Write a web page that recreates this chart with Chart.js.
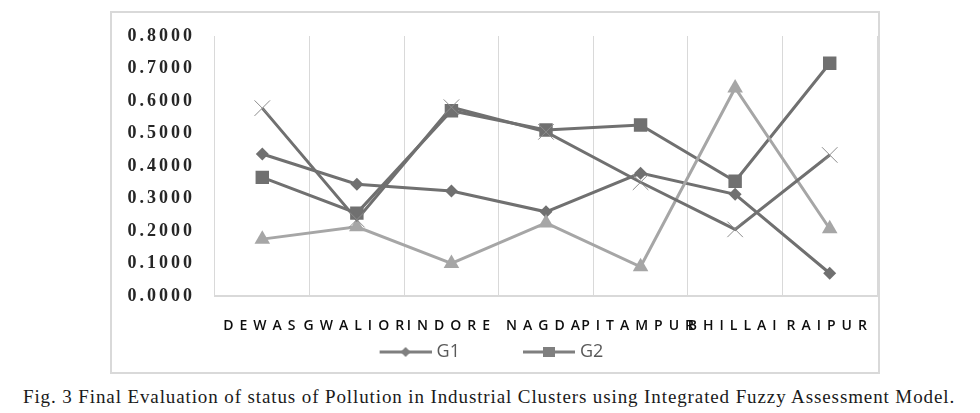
<!DOCTYPE html>
<html>
<head>
<meta charset="utf-8">
<script src="https://cdn.jsdelivr.net/npm/chart.js@4.4.1/dist/chart.umd.min.js"></script>
<style>
  body { margin: 0; background: #fff; width: 980px; height: 413px; overflow: hidden; position: relative; }
  #marco {
    position: absolute; left: 110px; top: 11px; width: 770px; height: 363px;
    border: 2px solid #d9d9d9; box-sizing: border-box;
  }
  #chart-contaminacion { position: absolute; left: 53px; top: 13px; display: block; }
  #pie {
    position: absolute; left: 23px; top: 386px; white-space: nowrap;
    font-family: "Liberation Serif", serif; font-size: 19px; color: #1a1a1a;
  }
</style>
</head>
<body>
<div id="marco"></div>
<canvas id="chart-contaminacion" width="825" height="359"></canvas>
<div id="pie">Fig. 3 Final Evaluation of status of Pollution in Industrial Clusters using Integrated Fuzzy Assessment Model.</div>
<script>
// Datos
var categorias = ['DEWAS', 'GWALIOR', 'INDORE', 'NAGDA', 'PITAMPUR', 'BHILLAI', 'RAIPUR'];
var serieG1 = [0.437, 0.344, 0.323, 0.259, 0.378, 0.313, 0.070];
var serieG2 = [0.365, 0.255, 0.570, 0.511, 0.526, 0.353, 0.716];
var serieG3 = [0.175, 0.213, 0.100, 0.225, 0.090, 0.640, 0.207];
var serieG4 = [0.578, 0.235, 0.581, 0.505, 0.350, 0.205, 0.434];
var nombresSeries = ['G1', 'G2', 'G3', 'G4'];
var seriesEnLeyenda = ['G1', 'G2'];
var ejeYMin = 0, ejeYMax = 0.8, ejeYPaso = 0.1;

var GRIS_OSCURO = '#707070';
var GRIS_CLARO = '#a6a6a6';
var GRIS_REJILLA = '#d9d9d9';

// Ajustar el pie de figura al ancho del original
(function() {
  var pie = document.getElementById('pie');
  var ancho = pie.getBoundingClientRect().width;
  var n = pie.textContent.length;
  pie.style.letterSpacing = ((932 - ancho) / n).toFixed(3) + 'px';
})();

// Escalas con espaciado entre letras (como en el original de Excel)
var CategoryScale = Chart.registry.getScale('category');
var LinearScale = Chart.registry.getScale('linear');

class CategoriaEspaciada extends CategoryScale {
  drawLabels(area) {
    this.ctx.save();
    this.ctx.letterSpacing = '6px';
    super.drawLabels(area);
    this.ctx.restore();
  }
}
CategoriaEspaciada.id = 'categoriaEspaciada';
CategoriaEspaciada.defaults = CategoryScale.defaults;

class LinealEspaciada extends LinearScale {
  drawLabels(area) {
    this.ctx.save();
    this.ctx.letterSpacing = '3px';
    super.drawLabels(area);
    this.ctx.restore();
  }
}
LinealEspaciada.id = 'linealEspaciada';
LinealEspaciada.defaults = LinearScale.defaults;

Chart.register(CategoriaEspaciada, LinealEspaciada);

// Caja de leyenda: ancho del hueco y posición de la línea dentro de él
var CAJA_LEYENDA = 101;
var INICIO_LINEA = 53;
var LARGO_LINEA = 52;

/**
 * Icono de leyenda estilo Excel: línea con marcador en el centro
 */
function iconoLeyenda(estilo, color) {
  var mitad = Math.max(CAJA_LEYENDA / 2, INICIO_LINEA + LARGO_LINEA - CAJA_LEYENDA / 2);
  var c = document.createElement('canvas');
  c.width = Math.ceil(mitad * 2);
  c.height = 14;
  var x0 = mitad - CAJA_LEYENDA / 2 + INICIO_LINEA;
  var g = c.getContext('2d');
  g.strokeStyle = color;
  g.lineWidth = 3;
  g.beginPath();
  g.moveTo(x0, 7);
  g.lineTo(x0 + LARGO_LINEA, 7);
  g.stroke();
  g.fillStyle = color;
  var cx = x0 + LARGO_LINEA / 2;
  g.beginPath();
  if (estilo === 'rectRot') {
    g.moveTo(cx, 2); g.lineTo(cx + 5, 7); g.lineTo(cx, 12); g.lineTo(cx - 5, 7);
  } else {
    g.rect(cx - 6, 2, 12, 10);
  }
  g.closePath();
  g.fill();
  return c;
}

var iconos = {
  G1: iconoLeyenda('rectRot', '#7f7f7f'),
  G2: iconoLeyenda('rect', '#7f7f7f')
};

function sinRelleno(scale) {
  scale.paddingTop = 0;
  scale.paddingBottom = 0;
  scale.paddingLeft = 0;
  scale.paddingRight = 0;
}

var ctx = document.getElementById('chart-contaminacion');

new Chart(ctx, {
  type: 'line',
  data: {
    labels: categorias,
    datasets: [
      {
        label: nombresSeries[0], data: serieG1, order: 4,
        borderColor: GRIS_OSCURO, backgroundColor: GRIS_OSCURO, borderWidth: 3,
        pointStyle: 'rectRot', pointRadius: 6.5, pointBorderWidth: 0
      },
      {
        label: nombresSeries[1], data: serieG2, order: 3,
        borderColor: GRIS_OSCURO, backgroundColor: GRIS_OSCURO, borderWidth: 3,
        pointStyle: 'rect', pointRadius: 9.5, pointBorderWidth: 0
      },
      {
        label: nombresSeries[2], data: serieG3, order: 2,
        borderColor: GRIS_CLARO, backgroundColor: GRIS_CLARO, borderWidth: 3,
        pointStyle: 'triangle', pointRadius: 9, pointBorderWidth: 0
      },
      {
        label: nombresSeries[3], data: serieG4, order: 1,
        borderColor: GRIS_OSCURO, backgroundColor: GRIS_OSCURO, borderWidth: 3,
        pointStyle: 'crossRot', pointRadius: 11, pointBorderWidth: 1,
        pointBorderColor: '#8c8c8c'
      }
    ]
  },
  options: {
    responsive: false,
    animation: false,
    events: [],
    layout: {
      autoPadding: false,
      padding: { left: 0, right: 1, top: 23, bottom: 1 }
    },
    plugins: {
      tooltip: { enabled: false },
      legend: {
        position: 'bottom',
        labels: {
          usePointStyle: true,
          pointStyleWidth: CAJA_LEYENDA,
          padding: 10,
          color: '#595959',
          font: { family: "'Open Sans', sans-serif", size: 18 },
          filter: function(item) { return seriesEnLeyenda.indexOf(item.text) !== -1; },
          sort: function(a, b) { return a.datasetIndex - b.datasetIndex; },
          generateLabels: function(chart) {
            var items = Chart.defaults.plugins.legend.labels.generateLabels(chart);
            return items.map(function(it) {
              if (iconos[it.text]) it.pointStyle = iconos[it.text];
              return it;
            });
          }
        }
      }
    },
    scales: {
      x: {
        type: 'categoriaEspaciada',
        offset: true,
        grid: { display: true, offset: true, color: GRIS_REJILLA, lineWidth: 1, drawTicks: false },
        border: { display: true, color: GRIS_REJILLA, width: 2 },
        ticks: {
          padding: 22,
          autoSkip: false,
          maxRotation: 0,
          color: '#0d0d0d',
          font: { family: "'Open Sans', sans-serif", size: 14, weight: '600' }
        },
        afterFit: function(scale) { scale.height = 37; sinRelleno(scale); }
      },
      y: {
        type: 'linealEspaciada',
        min: ejeYMin,
        max: ejeYMax,
        grid: { display: false, drawTicks: false },
        border: { display: false },
        ticks: {
          stepSize: ejeYPaso,
          padding: 20,
          color: '#262626',
          font: { family: "'Liberation Serif', serif", size: 18, weight: 'bold' },
          callback: function(value) { return value.toFixed(4); }
        },
        afterFit: function(scale) { scale.width = 162; sinRelleno(scale); }
      }
    }
  }
});
</script>
</body>
</html>
